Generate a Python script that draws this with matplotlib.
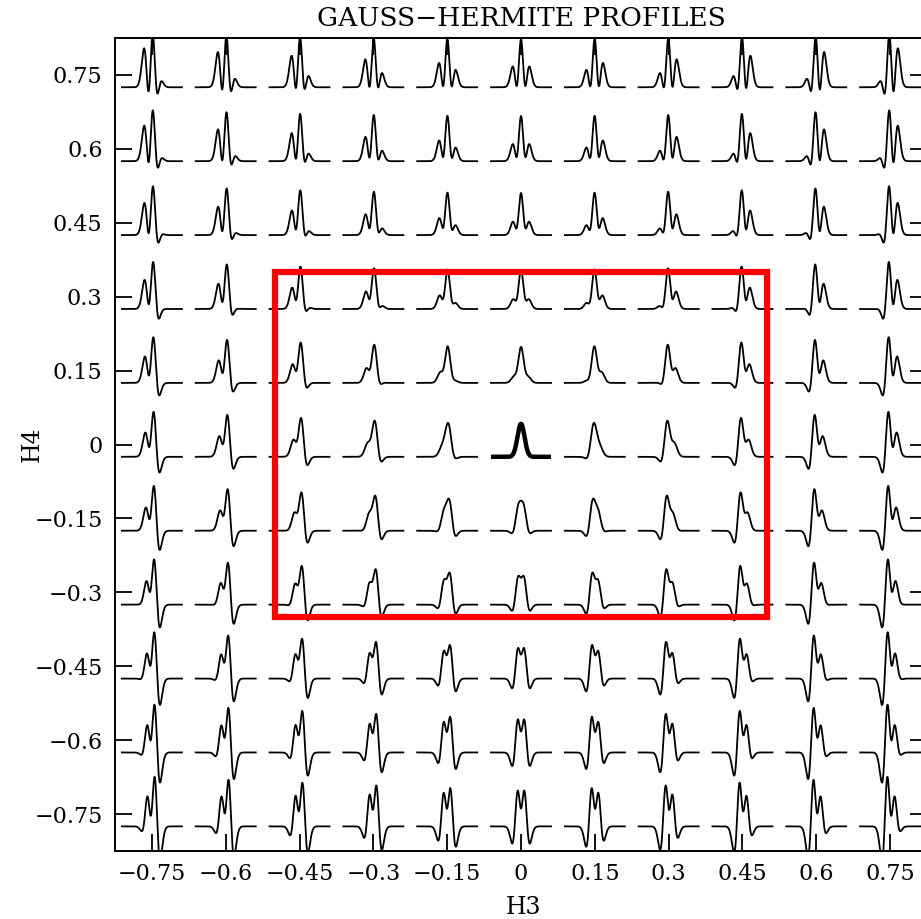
import numpy as np
import matplotlib
matplotlib.use('Agg')
import matplotlib.pyplot as plt
from matplotlib.patches import Rectangle

# grid of Gauss-Hermite coefficients
H3_VALUES = [-0.75, -0.6, -0.45, -0.3, -0.15, 0.0, 0.15, 0.3, 0.45, 0.6, 0.75]
H4_VALUES = [-0.75, -0.6, -0.45, -0.3, -0.15, 0.0, 0.15, 0.3, 0.45, 0.6, 0.75]
TICK_LABELS = ['−0.75', '−0.6', '−0.45', '−0.3', '−0.15', '0',
               '0.15', '0.3', '0.45', '0.6', '0.75']

# highlighted region (h3 range, h4 range)
BOX_H3 = [-0.5, 0.5]
BOX_H4 = [-0.35, 0.35]

# reference profile drawn in bold
REF_H3 = 0.0
REF_H4 = 0.0


def gauss_hermite(y, h3, h4):
    '''Gauss-Hermite line profile with h3 and h4 terms'''
    H3 = (2.0 * np.sqrt(2.0) * y**3 - 3.0 * np.sqrt(2.0) * y) / np.sqrt(6.0)
    H4 = (4.0 * y**4 - 12.0 * y**2 + 3.0) / np.sqrt(24.0)
    return np.exp(-0.5 * y**2) * (1.0 + h3 * H3 + h4 * H4)


plt.rcParams['font.family'] = ['DejaVu Serif']
plt.rcParams['axes.unicode_minus'] = True

fig = plt.figure(figsize=(9.21, 9.19), dpi=100)
ax = fig.add_axes([115 / 921, 68 / 919, 812 / 921, 813 / 919])

span = 8.5
y = np.linspace(-span, span, 800)
half_width = 0.061   # profile half width in plot units
amp = 0.067          # height of unit profile
base_off = -0.025    # baseline offset below the grid point

for h4 in H4_VALUES:
    for h3 in H3_VALUES:
        prof = gauss_hermite(y, h3, h4)
        xs = h3 + y / span * half_width
        ys = h4 + base_off + amp * prof
        if h3 == REF_H3 and h4 == REF_H4:
            ax.plot(xs, ys, color='black', lw=3.2, zorder=3,
                    solid_capstyle='butt')
        else:
            ax.plot(xs, ys, color='black', lw=1.3, zorder=2)

ax.add_patch(Rectangle((BOX_H3[0], BOX_H4[0]), BOX_H3[1] - BOX_H3[0],
                       BOX_H4[1] - BOX_H4[0], fill=False,
                       edgecolor='#ff0000', lw=4.5, zorder=4))

ax.set_xlim(-0.825, 0.825)
ax.set_ylim(-0.825, 0.825)
ax.set_xticks(H3_VALUES)
ax.set_xticklabels(TICK_LABELS)
ax.set_yticks(H4_VALUES)
ax.set_yticklabels(TICK_LABELS)
ax.tick_params(direction='in', length=12, width=1.3, labelsize=16,
               top=True, right=True, pad=9)
for sp in ax.spines.values():
    sp.set_linewidth(1.4)

ax.text(0.0, 1.008, 'GAUSS−HERMITE PROFILES', fontsize=19,
        transform=ax.get_xaxis_transform(), ha='center', va='bottom')
fig.text(523 / 921, 1 - 908 / 919, 'H3', fontsize=17, ha='center', va='center')
fig.text(32 / 921, 1 - 444 / 919, 'H4', fontsize=17, rotation=90,
         ha='center', va='center')

fig.savefig('out.png', dpi=100)
